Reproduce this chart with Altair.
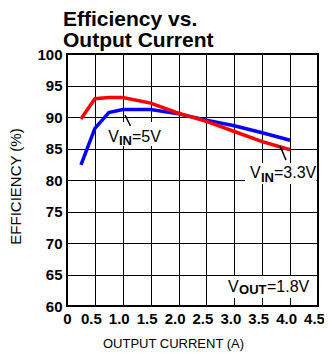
import altair as alt
import pandas as pd

# ---- data ----
current = [0.25, 0.5, 0.75, 1.0, 1.5, 2.0, 2.5, 3.0, 3.5, 4.0]
eff_3v3 = [89.7, 92.9, 93.1, 93.1, 92.2, 90.6, 89.3, 87.7, 86.1, 84.8]
eff_5v = [82.4, 88.2, 90.7, 91.2, 91.2, 90.5, 89.5, 88.6, 87.5, 86.3]

x_ticks = [0, 0.5, 1.0, 1.5, 2.0, 2.5, 3.0, 3.5, 4.0, 4.5]
y_ticks = [60, 65, 70, 75, 80, 85, 90, 95, 100]

# annotation labels (data coordinates)
main_text = ["V", "=5V", "V", "=3.3V", "V", "=1.8V"]
main_x = [0.740, 1.165, 3.281, 3.711, 2.886, 3.586]
main_y = [86.08, 86.08, 80.32, 80.32, 62.3, 62.3]
sub_text = ["IN", "IN", "OUT"]
sub_x = [0.932, 3.478, 3.084]
sub_y = [85.56, 79.68, 61.9]

# white label backgrounds
box_x = [0.699, 3.191, 2.833]
box_x2 = [1.667, 4.473, 4.464]
box_y = [89.2, 82.7, 64.76]
box_y2 = [85.4, 79.37, 61.27]

# leader lines
lead_x = [1.04, 3.819]
lead_y = [90.32, 85.40]
lead_x2 = [1.138, 3.926]
lead_y2 = [88.57, 83.17]

FONT = "Liberation Sans"

lines_df = pd.DataFrame({
    "x": current * 2,
    "y": eff_5v + eff_3v3,
    "vin": ["5V"] * len(current) + ["3.3V"] * len(current),
})
main_df = pd.DataFrame({"x": main_x, "y": main_y, "t": main_text})
sub_df = pd.DataFrame({"x": sub_x, "y": sub_y, "t": sub_text})
box_df = pd.DataFrame({"x": box_x, "x2": box_x2, "y": box_y, "y2": box_y2})
lead_df = pd.DataFrame({"x": lead_x, "x2": lead_x2, "y": lead_y, "y2": lead_y2})

xscale = alt.Scale(domain=[0, 4.5], nice=False, zero=False)
yscale = alt.Scale(domain=[60, 100], nice=False, zero=False)

xaxis = alt.Axis(
    values=x_ticks, title="OUTPUT CURRENT (A)",
    labelExpr="datum.value == 0 ? '0' : format(datum.value, '.1f')",
    labelFont=FONT, labelFontSize=15, labelFontWeight="bold", labelColor="black",
    labelPadding=5, ticks=False, domain=False,
    labelOffset={"condition": {"test": "datum.value == 0", "value": 0}, "value": -4},
    grid=True, gridColor="black", gridWidth=1, gridOpacity=1,
    titleFont=FONT, titleFontSize=13, titleFontWeight="normal", titleColor="black",
    titleX=106, titleY=41, titleBaseline="alphabetic", titleAlign="center",
    labelOverlap=False, labelFlush=False,
)
yaxis = alt.Axis(
    values=y_ticks, title="EFFICIENCY (%)",
    labelFont=FONT, labelFontSize=15, labelFontWeight="bold", labelColor="black",
    labelPadding=5, ticks=False, domain=False,
    grid=True, gridColor="black", gridWidth=1, gridOpacity=1,
    titleFont=FONT, titleFontSize=15, titleFontWeight="normal", titleColor="black",
    titleX=-47, titleY=132, titleBaseline="alphabetic", titleAlign="center", titleAngle=270,
    labelOverlap=False, labelFlush=False,
)

X = alt.X("x:Q", scale=xscale, axis=xaxis)
Y = alt.Y("y:Q", scale=yscale, axis=yaxis)

boxes = alt.Chart(box_df).mark_rect(color="white").encode(x=X, x2="x2:Q", y=Y, y2="y2:Q")

blue = alt.Chart(lines_df).transform_filter(alt.datum.vin == "5V").mark_line(
    color="#0000ff", strokeWidth=3.5
).encode(x=X, y=Y)

red = alt.Chart(lines_df).transform_filter(alt.datum.vin == "3.3V").mark_line(
    color="#ff0000", strokeWidth=3.5
).encode(x=X, y=Y)

leads = alt.Chart(lead_df).mark_rule(color="black", strokeWidth=1.5).encode(
    x=X, x2="x2:Q", y=Y, y2="y2:Q"
)

main_labels = alt.Chart(main_df).mark_text(
    font=FONT, fontSize=16, align="left", baseline="alphabetic", color="black"
).encode(x=X, y=Y, text="t:N")

sub_labels = alt.Chart(sub_df).mark_text(
    font=FONT, fontSize=13, fontWeight="bold", align="left", baseline="alphabetic", color="black"
).encode(x=X, y=Y, text="t:N")

chart = alt.layer(boxes, blue, red, leads, main_labels, sub_labels).properties(
    width=251, height=252,
    title=alt.TitleParams(
        text=["Efficiency vs.", "Output Current"],
        anchor="start", frame="group", font=FONT, fontSize=21, fontWeight="bold",
        color="black", lineHeight=21, baseline="alphabetic", offset=13, dx=-4, dy=34,
    ),
    autosize=alt.AutoSizeParams(type="none"),
    padding={"left": 59, "top": 46, "right": 6, "bottom": 46},
    background="white",
).configure_view(stroke="black", strokeWidth=2)

chart.save("out.html", embed_options={"renderer": "svg", "actions": False})
